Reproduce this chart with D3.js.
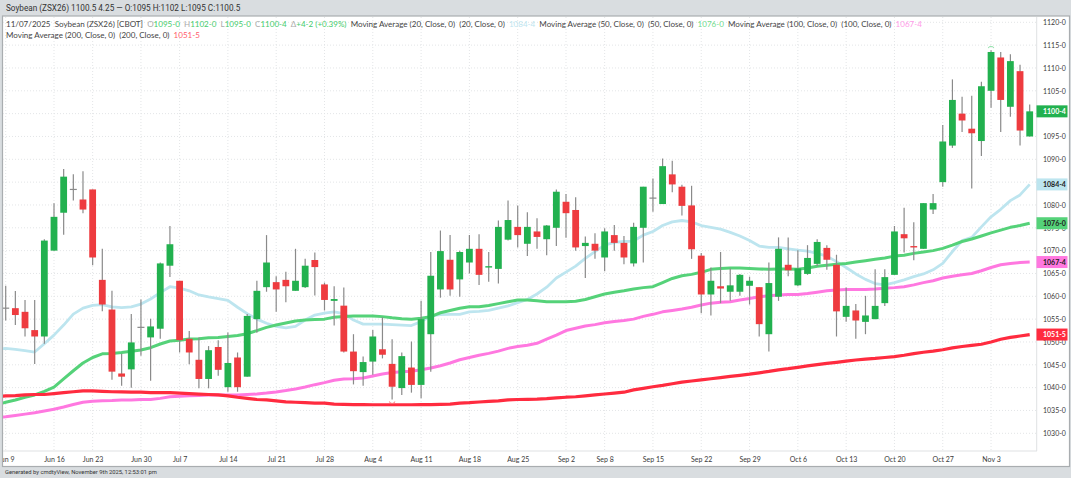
<!DOCTYPE html>
<html>
<head>
<meta charset="utf-8">
<title>Soybean (ZSX26)</title>
<script src="https://d3js.org/d3.v7.min.js"></script>
<style>
    html, body { margin: 0; padding: 0; background: #d9dde0; overflow: hidden; }
    svg { display: block; }
    text { font-family: Lato, sans-serif; }
    .grid line { stroke: #e3e5e7; stroke-dasharray: 1 2; }
    .axis path, .axis line { display: none; }
    .axis text { font-size: 7px; fill: #3a3a3a; font-family: Lato, sans-serif; }
    .wick { stroke: #8a8a8a; stroke-width: 1.2; }
    .ma { fill: none; stroke-linejoin: round; }
</style>
</head>
<body>
<svg id="chart" width="1071" height="478"></svg>
<script>
// trading days, first one is only there for the moving averages (off the left edge)
var dates = ["Jun 6",
    "Jun 9","Jun 10","Jun 11","Jun 12","Jun 13","Jun 16","Jun 17","Jun 18","Jun 20",
    "Jun 23","Jun 24","Jun 25","Jun 26","Jun 27","Jun 30","Jul 1","Jul 2","Jul 3",
    "Jul 7","Jul 8","Jul 9","Jul 10","Jul 11","Jul 14","Jul 15","Jul 16","Jul 17","Jul 18",
    "Jul 21","Jul 22","Jul 23","Jul 24","Jul 25","Jul 28","Jul 29","Jul 30","Jul 31","Aug 1",
    "Aug 4","Aug 5","Aug 6","Aug 7","Aug 8","Aug 11","Aug 12","Aug 13","Aug 14","Aug 15",
    "Aug 18","Aug 19","Aug 20","Aug 21","Aug 22","Aug 25","Aug 26","Aug 27","Aug 28","Aug 29",
    "Sep 2","Sep 3","Sep 4","Sep 5","Sep 8","Sep 9","Sep 10","Sep 11","Sep 12",
    "Sep 15","Sep 16","Sep 17","Sep 18","Sep 19","Sep 22","Sep 23","Sep 24","Sep 25","Sep 26",
    "Sep 29","Sep 30","Oct 1","Oct 2","Oct 3","Oct 6","Oct 7","Oct 8","Oct 9","Oct 10",
    "Oct 13","Oct 14","Oct 15","Oct 16","Oct 17","Oct 20","Oct 21","Oct 22","Oct 23","Oct 24",
    "Oct 27","Oct 28","Oct 29","Oct 30","Oct 31","Nov 3","Nov 4","Nov 5","Nov 6","Nov 7"];

var tickDates = ["Jun 9","Jun 16","Jun 23","Jun 30","Jul 7","Jul 14","Jul 21","Jul 28","Aug 4","Aug 11",
    "Aug 18","Aug 25","Sep 2","Sep 8","Sep 15","Sep 22","Sep 29","Oct 6","Oct 13","Oct 20","Oct 27","Nov 3"];
var priceTicks = [1030,1035,1040,1045,1050,1055,1060,1065,1070,1075,1080,1085,1090,1095,1100,1105,1110,1115,1120];
// these two sit completely under a price flag, so no label for them
var coveredTicks = [1085,1100];

var opens = [1057.4,1057.4,1056.6,1052.6,1051.2,1070,1078.3,1083.4,1081.2,1083.4,
    1063.6,1057.1,1043.1,1044,1053.2,1051,1052.9,1066.7,1063.4,1050.7,
    1046.1,1041.9,1048.9,1040.1,1046.6,1042.4,1055,1062,1063.1,1063.6,
    1061.2,1062,1067.95,1062.6,1059,1057.95,1047.9,1043.4,1045.7,1048.4,
    1045.2,1039.9,1044.4,1040.6,1051.7,1061.5,1068,1063.7,1067.4,1070.4,
    1066.3,1066,1072.4,1075.2,1071.5,1074.2,1072.5,1075,1080.7,1078.9,
    1071,1071.5,1068.5,1073.4,1071.7,1067.2,1075,1081.5,1080.2,1086.7,
    1084,1079.9,1068.9,1060.4,1062.2,1061,1061,1062.3,1062,1051.7,
    1059.9,1066.9,1062.4,1064.9,1067.1,1070.6,1066.9,1055.5,1056.9,1054.4,
    1055,1058.5,1064.7,1073.6,1071,1070.4,1079,1085,1093,1100,
    1096.7,1094,1105,1112.3,1101.5,1109.3,1095];
var highs = [1062.3,1061.15,1059.2,1059.2,1072.5,1080.4,1087.9,1086.7,1087.4,1083.4,
    1070.4,1061.2,1047.4,1056.1,1059.3,1055.1,1067.4,1075.4,1063.4,1052.4,
    1051,1049.1,1050.4,1052.1,1047.7,1056.1,1063.4,1073.4,1064.4,1065.4,
    1070.4,1068.2,1069.6,1063,1062.2,1061.9,1051.7,1046.8,1052.6,1055.4,
    1050.6,1047.7,1050.1,1059,1069.7,1074.4,1073.4,1070,1073.4,1073.6,
    1069.7,1076.6,1081,1079.9,1078.4,1077.1,1075.6,1083.4,1082.4,1081.7,
    1073.1,1073.8,1074.9,1075.6,1073.2,1076.1,1084,1085.8,1090.2,1089.7,
    1084.4,1084.2,1069.5,1066.3,1069.7,1066.1,1064.9,1064.3,1062,1067.4,
    1072.9,1072.9,1070.1,1071.2,1072.5,1071.2,1069.1,1061.9,1058.3,1060.1,
    1065.9,1065.9,1075.4,1079.4,1076.2,1080.4,1082.4,1097.5,1107.5,1103.7,
    1103.9,1107,1113.9,1113.5,1113,1110.7,1102];
var lows = [1054.7,1053.7,1051.2,1045.2,1049.6,1070,1073.5,1081,1078.2,1066.8,
    1056.7,1041.7,1040.4,1040,1047,1041.5,1050.7,1064.2,1047.7,1045.1,
    1039.85,1039.85,1042.6,1039.1,1039.1,1042.4,1052,1061,1056.6,1058.7,
    1061.2,1061.8,1060.2,1056.9,1053.6,1047.7,1040.7,1040.4,1042.8,1046.4,
    1037.4,1038.4,1038.9,1037.7,1043.5,1059.7,1060.1,1059.9,1065,1062.5,
    1063.2,1062.8,1072.2,1070.7,1068.8,1070.4,1069,1071,1072.8,1070,
    1064,1068.2,1065.5,1070,1067,1066.5,1067.4,1078.5,1080.2,1082.8,
    1077.7,1068.2,1056.3,1055.8,1058.5,1059,1060.1,1058.2,1051.2,1047.9,
    1059,1064.4,1062.2,1064.7,1066.6,1065.8,1051.2,1054.4,1050.7,1051.7,
    1055,1057.9,1064.7,1069.6,1067.9,1070.4,1078,1084,1092.5,1096,
    1083.6,1090.7,1101.3,1096,1099.3,1093,1095];
var closes = [1057.4,1055.9,1053,1051.2,1072.2,1077.4,1086.2,1083.4,1079,1068.5,
    1058.2,1043.5,1042.4,1049.9,1053.2,1053.4,1067.2,1071.4,1050.4,1047.7,
    1041.9,1048.2,1043.9,1045.4,1040.1,1055.7,1061.2,1067.4,1061.5,1062.2,
    1063.4,1066.7,1066.4,1059.2,1059.4,1047.9,1043.6,1045.6,1051.2,1047.2,
    1040.2,1046.9,1040.6,1055,1064.5,1069.9,1061.5,1069.7,1070.4,1064.7,
    1066.6,1075.2,1076.7,1073.4,1075.2,1073,1075.5,1082.9,1078.2,1070.7,
    1071.7,1070,1074.2,1071.7,1068.5,1075.2,1084,1081.5,1088.5,1084.5,
    1079.8,1070.3,1060.4,1063.4,1061.7,1062.4,1064.7,1063.4,1053.9,1062.9,
    1070.4,1065.7,1066.1,1068.4,1071.9,1068,1056.7,1057.9,1054.7,1055.8,
    1057.9,1064.2,1074.2,1072.7,1070.7,1080.4,1080.4,1093.9,1103,1098.5,
    1095.7,1106,1113.5,1103,1111.5,1096.3,1100.5];

var ma20 = [1048.4,1048.6,1048.4,1048.1,1047.8,1049.6,1051.5,1053.7,1056.1,1057.4,1058,
    1058.2,1057.7,1057.5,1057.7,1058.3,1059.4,1060.8,1062.1,1061.8,1061.2,
    1060.3,1059.85,1059.5,1059.1,1057.6,1056.2,1055,1054.1,1053.4,1053.1,
    1053.4,1054.8,1055.9,1056.3,1056.6,1056.2,1054.8,1053.9,1053.9,1053.9,
    1053.8,1053.7,1053.6,1054.45,1055.7,1056,1056.05,1056.05,1056.6,1056.7,
    1056.9,1057.4,1057.9,1058.6,1059.3,1060.5,1062,1064,1065.3,1066.6,
    1068.3,1069.8,1071.2,1071.8,1072,1072.1,1073.4,1074.2,1075.5,1076.3,
    1076.6,1076.3,1075.5,1075.1,1074.7,1074,1073.2,1072.2,1071,1070.7,
    1070.7,1070.4,1070.1,1069.9,1069.4,1068.8,1067.6,1066.3,1064.9,1063.7,
    1062.8,1062.5,1063,1063.6,1064.3,1064.9,1065.8,1067.2,1069.8,1072.2,
    1072.9,1075.2,1077.4,1079.05,1080.95,1082.2,1084.5];
var ma50 = [1036.2,1036.8,1037.3,1037.9,1038.4,1039.2,1040.1,1041.9,1043.7,1045.4,1046.6,
    1047.4,1047.5,1047.7,1047.95,1048.25,1048.75,1049.55,1050.2,1050.4,1050.65,
    1050.7,1050.9,1051,1051.2,1051.4,1051.8,1052.5,1053.2,1053.7,1054.15,
    1054.6,1054.8,1054.9,1055,1055.4,1055.6,1055.7,1055.7,1055.7,1055.55,
    1055.3,1055.1,1055,1055.2,1055.55,1056.4,1056.9,1057.4,1057.7,1057.7,
    1058,1058.4,1058.8,1059.2,1059.2,1059,1058.8,1058.8,1058.8,1058.9,
    1059.3,1059.9,1060.5,1060.9,1061.2,1061.6,1061.9,1062.1,1063,1063.9,
    1064.5,1064.8,1065.25,1065.9,1066.1,1066.2,1066.2,1066.1,1066,1065.9,
    1066,1066,1065.9,1066.2,1066.6,1066.8,1067,1067.2,1067.5,1067.8,
    1068.1,1068.4,1068.8,1069,1069.4,1069.7,1070,1070.5,1071.2,1072,
    1072.55,1073.2,1073.9,1074.5,1075.1,1075.5,1076];
var ma100 = [1033.4,1033.6,1033.9,1034.2,1034.5,1034.9,1035.25,1035.75,1036.3,1036.8,1037,
    1037.15,1037.2,1037.3,1037.3,1037.4,1037.4,1037.65,1038,1038.1,1038.2,
    1038.3,1038.4,1038.4,1038.4,1038.4,1038.5,1038.6,1038.8,1039.05,1039.35,
    1039.7,1040.15,1040.65,1041.1,1041.6,1041.9,1041.95,1042.1,1042.55,1043,
    1043.3,1043.5,1043.6,1043.9,1044.3,1044.8,1045.4,1046.1,1046.6,1047.1,
    1047.5,1048,1048.6,1049,1049.3,1049.7,1050.6,1051.5,1052.5,1053,
    1053.5,1053.8,1054.2,1054.5,1054.7,1055,1055.6,1056.05,1056.6,1056.9,
    1057.2,1057.6,1058.1,1058.5,1058.7,1058.8,1059.2,1059.5,1059.9,1060.1,
    1060.3,1060.4,1060.4,1060.6,1060.9,1061.2,1061.4,1061.5,1061.5,1061.5,
    1061.6,1061.75,1061.9,1062.1,1062.5,1063,1063.4,1064,1064.4,1064.7,
    1065,1065.6,1066.3,1066.9,1067.2,1067.4,1067.5];
var ma200 = [1038,1038.2,1038.25,1038.4,1038.5,1038.5,1038.7,1038.9,1039.1,1039.3,1039.3,
    1039.2,1039.1,1039.05,1039,1039,1038.9,1038.9,1038.9,1038.8,1038.7,
    1038.6,1038.5,1038.4,1038.2,1037.9,1037.65,1037.4,1037.3,1037.1,1036.9,
    1036.8,1036.7,1036.6,1036.6,1036.4,1036.35,1036.3,1036.3,1036.25,1036.25,
    1036.25,1036.25,1036.25,1036.3,1036.3,1036.35,1036.4,1036.6,1036.7,1036.85,
    1037,1037.1,1037.3,1037.4,1037.45,1037.5,1037.6,1037.75,1037.9,1038,
    1038.2,1038.4,1038.6,1038.8,1039,1039.5,1039.85,1040.2,1040.5,1040.85,
    1041.2,1041.45,1041.7,1041.95,1042.2,1042.45,1042.7,1042.95,1043.25,1043.55,
    1043.9,1044.15,1044.45,1044.75,1045.05,1045.3,1045.55,1045.8,1046.05,1046.25,
    1046.4,1046.6,1046.8,1047.1,1047.45,1047.75,1048,1048.3,1048.7,1049,
    1049.25,1049.5,1050,1050.6,1051,1051.3,1051.625];

var GREEN = "#22b14f", RED = "#ee3b3f";
var C20 = "#bde5ef", C50 = "#55d279", C100 = "#ff78e0", C200 = "#ff2b3f";

// plot box (window.top is taken, hence the names)
var plotL = 3, plotR = 1037, plotT = 17, plotB = 451;

// 1084.5 -> 1084-4 (eighths, like the cmdty quotes)
function quote(v) {
    var w = Math.floor(v);
    return w + "-" + Math.round((v - w) * 8);
}

var svg = d3.select("#chart");

var x = d3.scalePoint().domain(dates).range([-3.96, 1029.7]);
var y = d3.scaleLinear().domain([1030, 1120]).range([433.3, 22.3]);

// frame
svg.append("rect").attr("x", 2.5).attr("y", 16).attr("width", 1067).attr("height", 450.5)
    .attr("fill", "#fff").attr("stroke", "#a9adb0").attr("stroke-width", 1.2);

var defs = svg.append("defs");
defs.append("clipPath").attr("id", "plot")
    .append("rect").attr("x", plotL).attr("y", plotT).attr("width", plotR - plotL).attr("height", plotB - plotT);
defs.append("clipPath").attr("id", "dateclip")
    .append("rect").attr("x", plotL).attr("y", 0).attr("width", plotR - plotL).attr("height", 16);

// grid
var grid = svg.append("g").attr("class", "grid");
grid.selectAll(".h").data(priceTicks).enter().append("line")
    .attr("x1", plotL).attr("x2", plotR)
    .attr("y1", function (d) { return y(d); }).attr("y2", function (d) { return y(d); });
grid.selectAll(".v").data(tickDates).enter().append("line")
    .attr("y1", plotT).attr("y2", plotB)
    .attr("x1", function (d) { return x(d); }).attr("x2", function (d) { return x(d); });

var plot = svg.append("g").attr("clip-path", "url(#plot)");

// moving averages go under the candles
var line = d3.line()
    .x(function (d, i) { return x(dates[i]); })
    .y(function (d) { return y(d); });

[[ma20, C20, 2.8], [ma50, C50, 3], [ma100, C100, 3], [ma200, C200, 3.2]].forEach(function (m) {
    plot.append("path").attr("class", "ma")
        .attr("d", line(m[0])).attr("stroke", m[1]).attr("stroke-width", m[2]);
});

var candles = dates.slice(1).map(function (d, i) {
    return { date: d, o: opens[i], h: highs[i], l: lows[i], c: closes[i] };
});

var gc = plot.selectAll(".candle").data(candles).enter().append("g").attr("class", "candle");
gc.append("line").attr("class", "wick")
    .attr("x1", function (d) { return x(d.date); }).attr("x2", function (d) { return x(d.date); })
    .attr("y1", function (d) { return y(d.h); }).attr("y2", function (d) { return y(d.l); });
gc.filter(function (d) { return d.o === d.c; }).append("line").attr("class", "wick")
    .attr("x1", function (d) { return x(d.date) - 3.5; }).attr("x2", function (d) { return x(d.date) + 3.5; })
    .attr("y1", function (d) { return y(d.c); }).attr("y2", function (d) { return y(d.c); });
gc.filter(function (d) { return d.o !== d.c; }).append("rect")
    .attr("x", function (d) { return x(d.date) - 3.4; })
    .attr("width", 6.8)
    .attr("y", function (d) { return y(Math.max(d.o, d.c)); })
    .attr("height", function (d) { return Math.max(1.4, Math.abs(y(d.o) - y(d.c))); })
    .attr("fill", function (d) { return d.c > d.o ? GREEN : RED; });

// high and low markers
var hi = d3.greatest(candles, function (d) { return d.h; });
var lo = d3.least(candles, function (d) { return d.l; });
var arc = d3.arc().innerRadius(3).outerRadius(3.7);
plot.append("path").attr("d", arc({ startAngle: -1.1, endAngle: 1.1 }))
    .attr("transform", "translate(" + x(hi.date) + "," + (y(hi.h) - 0.5) + ")").attr("fill", "#7fdc9b");
plot.append("path").attr("d", arc({ startAngle: Math.PI - 1.1, endAngle: Math.PI + 1.1 }))
    .attr("transform", "translate(" + x(lo.date) + "," + (y(lo.l) + 0.5) + ")").attr("fill", "#f47a7a");

// axes
var labelTicks = priceTicks.filter(function (d) { return coveredTicks.indexOf(d) < 0; });
var axisY = d3.axisRight(y).tickValues(labelTicks).tickFormat(quote).tickSize(0).tickPadding(0);
svg.append("g").attr("class", "axis").attr("transform", "translate(1043,0)").call(axisY);
svg.append("rect").attr("x", plotR - 0.8).attr("y", plotT).attr("width", 1).attr("height", plotB - plotT).attr("fill", "#dfe1e3");
svg.append("rect").attr("x", plotL).attr("y", plotB - 0.5).attr("width", plotR - plotL).attr("height", 1).attr("fill", "#dfe1e3");

var axisX = d3.axisBottom(x).tickValues(tickDates).tickSize(0).tickPadding(6);
svg.append("g").attr("class", "axis").attr("clip-path", "url(#dateclip)")
    .attr("transform", "translate(0," + plotB + ")").call(axisX);

// price flags on the axis
var flags = [
    [closes[closes.length - 1], GREEN, "#fff"],
    [ma20[ma20.length - 1], C20, "#222"],
    [ma50[ma50.length - 1], C50, "#222"],
    [ma100[ma100.length - 1], C100, "#222"],
    [ma200[ma200.length - 1], C200, "#fff"]
];
var fl = svg.selectAll(".flag").data(flags).enter().append("g").attr("class", "flag");
fl.append("rect").attr("x", plotR - 0.5).attr("width", 31).attr("height", 12)
    .attr("y", function (d) { return y(d[0]) - 6; })
    .attr("fill", function (d) { return d[1]; });
fl.append("text").attr("x", 1043).attr("y", function (d) { return y(d[0]) + 2.6; })
    .attr("font-size", 7).attr("font-weight", 700).attr("fill", function (d) { return d[2]; })
    .text(function (d) { return quote(d[0]); });

// header, legend, footer
var last = candles[candles.length - 1];
svg.append("text").attr("x", 6).attr("y", 11).attr("font-size", 8.2).attr("fill", "#333")
    .style("font-family", "Roboto, sans-serif")
    .text("Soybean (ZSX26) 1100.5 4.25 — O:1095 H:1102 L:1095 C:1100.5");
svg.append("text").attr("x", 5).attr("y", 474).attr("font-size", 5.8).attr("fill", "#333")
    .style("font-family", "Roboto, sans-serif")
    .text("Generated by cmdtyView, November 9th 2025, 12:53:01 pm");

var DARK = "#444", LAB = "#aaa", UP = "#45cc6c";
function legendRow(yPos, parts) {
    var t = svg.append("text").attr("x", 6).attr("y", yPos).attr("font-size", 8.04).attr("xml:space", "preserve");
    parts.forEach(function (p) { t.append("tspan").attr("fill", p[1]).text(p[0]); });
}
legendRow(27, [
    ["11/07/2025  Soybean (ZSX26) [CBOT]  ", DARK],
    ["O", LAB], [quote(last.o) + "  ", UP],
    ["H", LAB], [quote(last.h) + "  ", UP],
    ["L", LAB], [quote(last.l) + "  ", UP],
    ["C", LAB], [quote(last.c) + "  ", UP],
    ["Δ", LAB], ["+4-2 (+0.39%)  ", UP],
    ["Moving Average (20, Close, 0)  (20, Close, 0)  ", DARK], [quote(ma20[ma20.length - 1]) + "  ", C20],
    ["Moving Average (50, Close, 0)  (50, Close, 0)  ", DARK], [quote(ma50[ma50.length - 1]) + "  ", "#6fdc8c"],
    ["Moving Average (100, Close, 0)  (100, Close, 0)  ", DARK], [quote(ma100[ma100.length - 1]), "#ff9be8"]
]);
legendRow(38, [
    ["Moving Average (200, Close, 0)  (200, Close, 0)  ", DARK], [quote(ma200[ma200.length - 1]), "#ff5a6a"]
]);
</script>
</body>
</html>
